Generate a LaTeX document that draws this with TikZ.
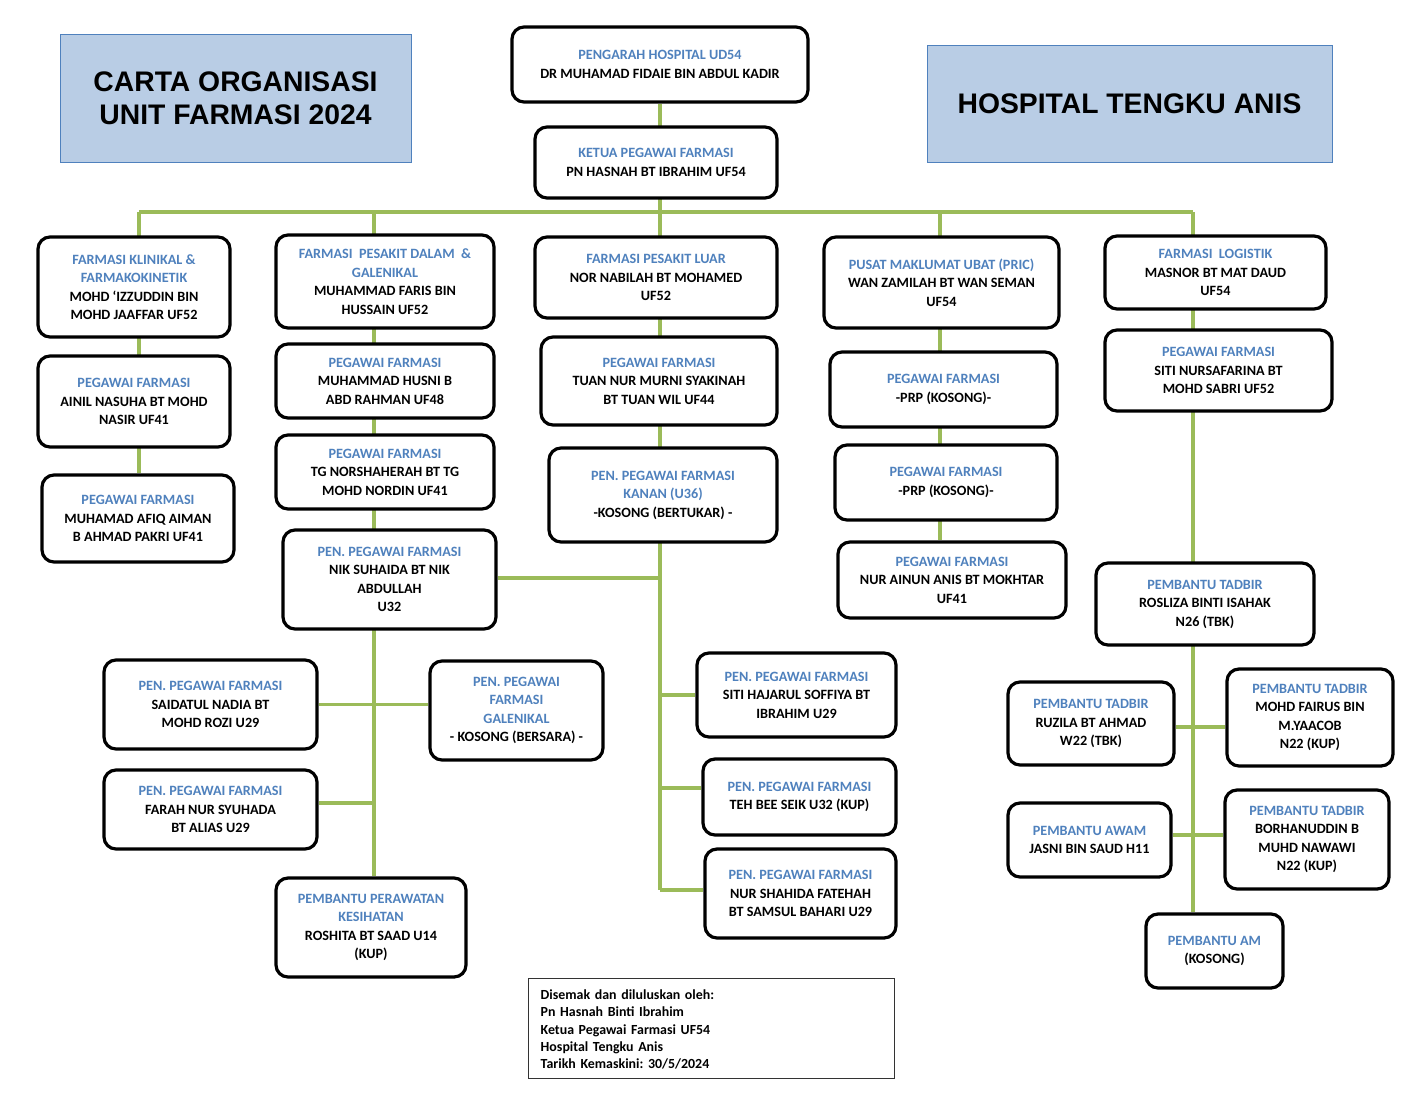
\documentclass[tikz,border=0pt]{standalone}
\usepackage{fontspec}
\setmainfont{Carlito}
\newfontfamily\titlefont{Liberation Sans}
\usetikzlibrary{backgrounds,calc}
\definecolor{lgreen}{HTML}{9BBB59}
\definecolor{tblue}{HTML}{4F81BD}
\definecolor{tfill}{HTML}{B9CDE5}
\newcommand{\hdr}[1]{\textcolor{tblue}{#1}}
\frenchspacing
\begin{document}
\begin{tikzpicture}[x=1pt,y=-1pt,
 box/.style={draw=black, line width=3.2pt, rounded corners=12pt, fill=white, align=center,
   font=\bfseries\fontsize{14.2}{18.5}\selectfont, inner sep=0pt},
 conn/.style={draw=lgreen, line width=3.5pt},
 ttl/.style={draw=tblue, line width=1pt, fill=tfill, align=center,
   font=\titlefont\bfseries\fontsize{28.3}{33}\selectfont, inner sep=0pt},
 note/.style={align=left, text width=340pt,
   font=\bfseries\fontsize{13.9}{17.3}\selectfont, inner sep=0pt},
]
\useasboundingbox (0,0) rectangle (1415,1093);

% titles
\node[ttl, minimum width=351pt, minimum height=128pt] (t1) at (235.5,98) {CARTA ORGANISASI\\UNIT FARMASI 2024};
\node[ttl, minimum width=405pt, minimum height=117pt] (t2) at (1129.5,103.5) {HOSPITAL TENGKU ANIS};

% top
\node[box, minimum width=296pt, minimum height=75pt] (p0) at (660,64.5) {\hdr{PENGARAH HOSPITAL UD54}\\DR MUHAMAD FIDAIE BIN ABDUL KADIR};
\node[box, minimum width=242pt, minimum height=71pt] (k) at (656,162.5) {\hdr{KETUA PEGAWAI FARMASI}\\PN HASNAH BT IBRAHIM UF54};

% column A
\node[box, minimum width=192pt, minimum height=100pt] (a1) at (134,287) {\hdr{FARMASI KLINIKAL \&}\\\hdr{FARMAKOKINETIK}\\MOHD ‘IZZUDDIN BIN\\MOHD JAAFFAR UF52};
\node[box, minimum width=192pt, minimum height=91pt] (a2) at (134,401.5) {\hdr{PEGAWAI FARMASI}\\AINIL NASUHA BT MOHD\\NASIR UF41};
\node[box, minimum width=192pt, minimum height=87pt] (a3) at (138,518.5) {\hdr{PEGAWAI FARMASI}\\MUHAMAD AFIQ AIMAN\\B AHMAD PAKRI UF41};

% column B
\node[box, minimum width=218pt, minimum height=93pt] (b1) at (385,281.5) {\hdr{FARMASI\ \ PESAKIT DALAM\ \ \&}\\\hdr{GALENIKAL}\\MUHAMMAD FARIS BIN\\HUSSAIN UF52};
\node[box, minimum width=218pt, minimum height=74pt] (b2) at (385,381) {\hdr{PEGAWAI FARMASI}\\MUHAMMAD HUSNI B\\ABD RAHMAN UF48};
\node[box, minimum width=218pt, minimum height=74pt] (b3) at (385,472) {\hdr{PEGAWAI FARMASI}\\TG NORSHAHERAH BT TG\\MOHD NORDIN UF41};
\node[box, minimum width=213pt, minimum height=99pt] (b4) at (389.5,579.5) {\hdr{PEN. PEGAWAI FARMASI}\\NIK SUHAIDA BT NIK\\ABDULLAH\\U32};

% column C
\node[box, minimum width=242pt, minimum height=81pt] (c1) at (656,277.5) {\hdr{FARMASI PESAKIT LUAR}\\NOR NABILAH BT MOHAMED\\UF52};
\node[box, minimum width=236pt, minimum height=88pt] (c2) at (659,381) {\hdr{PEGAWAI FARMASI}\\TUAN NUR MURNI SYAKINAH\\BT TUAN WIL UF44};
\node[box, minimum width=228pt, minimum height=94pt] (c3) at (663,495) {\hdr{PEN. PEGAWAI FARMASI}\\\hdr{KANAN (U36)}\\-KOSONG (BERTUKAR) -};

% column D
\node[box, minimum width=235pt, minimum height=91pt] (d1) at (941.5,282.5) {\hdr{PUSAT MAKLUMAT UBAT (PRIC)}\\WAN ZAMILAH BT WAN SEMAN\\UF54};
\node[box, minimum width=227pt, minimum height=75pt] (d2) at (943.5,389.5) {\hdr{PEGAWAI FARMASI}\\-PRP (KOSONG)-};
\node[box, minimum width=222pt, minimum height=75pt] (d3) at (946,482.5) {\hdr{PEGAWAI FARMASI}\\-PRP (KOSONG)-};
\node[box, minimum width=228pt, minimum height=76pt] (d4) at (952,580) {\hdr{PEGAWAI FARMASI}\\NUR AINUN ANIS BT MOKHTAR\\UF41};

% column E
\node[box, minimum width=221pt, minimum height=73pt] (e1) at (1215.5,272.5) {\hdr{FARMASI\ \ LOGISTIK}\\MASNOR BT MAT DAUD\\UF54};
\node[box, minimum width=227pt, minimum height=81pt] (e2) at (1218.5,370.5) {\hdr{PEGAWAI FARMASI}\\SITI NURSAFARINA BT\\MOHD SABRI UF52};
\node[box, minimum width=218pt, minimum height=82pt] (e3) at (1205,604) {\hdr{PEMBANTU TADBIR}\\ROSLIZA BINTI ISAHAK\\N26 (TBK)};

% lower left
\node[box, minimum width=213pt, minimum height=89pt] (l1) at (210.5,704.5) {\hdr{PEN. PEGAWAI FARMASI}\\SAIDATUL NADIA BT\\MOHD ROZI U29};
\node[box, minimum width=213pt, minimum height=79pt] (l2) at (210.5,809.5) {\hdr{PEN. PEGAWAI FARMASI}\\FARAH NUR SYUHADA\\BT ALIAS U29};
\node[box, minimum width=173pt, minimum height=99pt] (l3) at (516.5,710.5) {\hdr{PEN. PEGAWAI}\\\hdr{FARMASI}\\\hdr{GALENIKAL}\\- KOSONG (BERSARA) -};
\node[box, minimum width=190pt, minimum height=99pt] (l4) at (371,927.5) {\hdr{PEMBANTU PERAWATAN}\\\hdr{KESIHATAN}\\ROSHITA BT SAAD U14\\(KUP)};

% lower middle
\node[box, minimum width=199pt, minimum height=84pt] (m1) at (796.5,695) {\hdr{PEN. PEGAWAI FARMASI}\\SITI HAJARUL SOFFIYA BT\\IBRAHIM U29};
\node[box, minimum width=193pt, minimum height=76pt] (m2) at (799.5,797) {\hdr{PEN. PEGAWAI FARMASI}\\TEH BEE SEIK U32 (KUP)};
\node[box, minimum width=191pt, minimum height=89pt] (m3) at (800.5,893.5) {\hdr{PEN. PEGAWAI FARMASI}\\NUR SHAHIDA FATEHAH\\BT SAMSUL BAHARI U29};

% lower right
\node[box, minimum width=166pt, minimum height=83pt] (r1) at (1091,723.5) {\hdr{PEMBANTU TADBIR}\\RUZILA BT AHMAD\\W22 (TBK)};
\node[box, minimum width=166pt, minimum height=97pt] (r2) at (1310,717.5) {\hdr{PEMBANTU TADBIR}\\MOHD FAIRUS BIN\\M.YAACOB\\N22 (KUP)};
\node[box, minimum width=163pt, minimum height=74pt] (r3) at (1089.5,840) {\hdr{PEMBANTU AWAM}\\JASNI BIN SAUD H11};
\node[box, minimum width=164pt, minimum height=99pt] (r4) at (1307,839.5) {\hdr{PEMBANTU TADBIR}\\BORHANUDDIN B\\MUHD NAWAWI\\N22 (KUP)};
\node[box, minimum width=137pt, minimum height=74pt] (r5) at (1214.5,951) {\hdr{PEMBANTU AM}\\(KOSONG)};

% footer note
\node[draw=black!80, line width=1pt, minimum width=366pt, minimum height=100pt] (ft) at (711,1028) {};
\node[note, anchor=north west] (ftx) at ($(ft.north west)+(13,12)$) {Disemak dan diluluskan oleh:\\Pn Hasnah Binti Ibrahim\\Ketua Pegawai Farmasi UF54\\Hospital Tengku Anis\\Tarikh Kemaskini: 30/5/2024};

% connectors
\begin{pgfonlayer}{background}
\coordinate (busA) at (139,212);
\coordinate (busB) at (374,212);
\coordinate (busC) at (660,212);
\coordinate (busD) at (940,212);
\coordinate (busE) at (1193,212);
\coordinate (cEnd) at (660,890);
\coordinate (jB4) at (660,578);
\coordinate (jM2) at (660,788);
\coordinate (jL2) at (374,803);
\coordinate (jR1) at (1193,727);
\coordinate (jR3) at (1193,835);
\draw[conn] (p0.south -| busC) -- (busC);
\draw[conn] (busA) -- (busE);
\draw[conn] (busA) -- (busA |- a3.north);
\draw[conn] (busB) -- (busB |- l4.north);
\draw[conn] (busC) -- (cEnd);
\draw[conn] (busD) -- (busD |- d4.north);
\draw[conn] (busE) -- (busE |- r5.north);
\draw[conn] (jB4) -- (jB4 -| b4.east);
\draw[conn] (m1.west -| cEnd) -- (m1.west);
\draw[conn] (jM2) -- (jM2 -| m2.west);
\draw[conn] (cEnd) -- (cEnd -| m3.west);
\draw[conn] (l1.east) -- (l1.east -| l3.west);
\draw[conn] (jL2) -- (jL2 -| l2.east);
\draw[conn] (jR1 -| r1.east) -- (jR1 -| r2.west);
\draw[conn] (jR3 -| r3.east) -- (jR3 -| r4.west);
\end{pgfonlayer}
\end{tikzpicture}
\end{document}
